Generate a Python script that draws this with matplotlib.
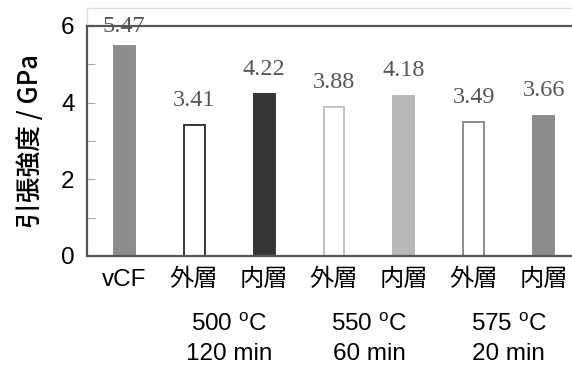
import matplotlib
matplotlib.use("Agg")
import matplotlib.pyplot as plt
from matplotlib.transforms import blended_transform_factory

plt.rcParams['font.family'] = ['Liberation Sans', 'Noto Sans CJK JP', 'DejaVu Sans']

categories = ["vCF", "外層", "内層", "外層", "内層", "外層", "内層"]
values = [5.47, 3.41, 4.22, 3.88, 4.18, 3.49, 3.66]
value_labels = ["5.47", "3.41", "4.22", "3.88", "4.18", "3.49", "3.66"]
face_colors = ["#8c8c8c", "white", "#363636", "white", "#b8b8b8", "white", "#8c8c8c"]
edge_colors = ["#8c8c8c", "#363636", "#363636", "#c0c0c0", "#b8b8b8", "#8c8c8c", "#8c8c8c"]
group_temps = ["500 $^\\mathregular{o}$C", "550 $^\\mathregular{o}$C", "575 $^\\mathregular{o}$C"]
group_times = ["120 min", "60 min", "20 min"]
group_positions = [1.5, 3.5, 5.5]
y_ticks = [0, 2, 4, 6]

W, H = 572, 367
fig = plt.figure(figsize=(W / 100, H / 100), dpi=100)
ax = fig.add_axes([87 / W, 111 / H, 494 / W, 230 / H])

x = list(range(len(categories)))
ax.bar(x, values, width=0.3, color=face_colors, edgecolor=edge_colors, linewidth=1.4, zorder=2)

for i, (v, lab) in enumerate(zip(values, value_labels)):
    off = 6.5 if i == 0 else 10.5
    ax.annotate(lab, (i, v), xytext=(0, off), textcoords="offset points",
                ha="center", va="bottom", fontsize=17.5, color="#555555",
                family=["Liberation Serif"])

ax.set_xlim(-0.53, 6.53)
ax.set_ylim(0, 6)

for s in ["left", "top", "bottom"]:
    ax.spines[s].set_color("#555555")
    ax.spines[s].set_linewidth(1.6)
ax.spines["right"].set_visible(False)

ax.set_yticks(y_ticks)
ax.set_yticks([1, 3, 5], minor=True)
ax.tick_params(axis="y", which="both", direction="in", length=6, width=0.8, color="#aaaaaa",
               labelsize=17.5, pad=9)
ax.set_xticks(x)
ax.set_xticklabels(categories)
ax.tick_params(axis="x", length=0, labelsize=17.5, pad=9)

ax.set_ylabel("引張強度 / GPa", fontsize=18.5, fontweight="medium",
              family=["Noto Sans CJK JP", "Liberation Sans"], labelpad=12)

# light outer frame above the plot area
ax.plot([-0.53, -0.53], [6, 6.47], color="#dddddd", lw=1, clip_on=False)
ax.plot([-0.53, 6.53], [6.47, 6.47], color="#dddddd", lw=1, clip_on=False)

trans = blended_transform_factory(ax.transData, fig.transFigure)
for gx, gt, gm in zip(group_positions, group_temps, group_times):
    ax.text(gx, (H - 325) / H, gt, transform=trans, ha="center", va="center", fontsize=17.5)
    ax.text(gx, (H - 354) / H, gm, transform=trans, ha="center", va="center", fontsize=17.5)

fig.savefig("out.png", dpi=100)
